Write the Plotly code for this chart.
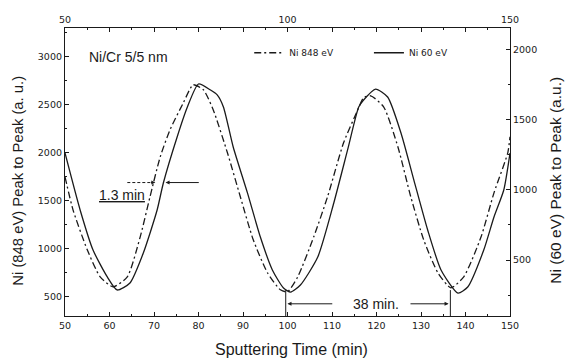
import plotly.graph_objects as go

# Ni 848 eV (dash-dot, left axis)
t_848 = [50, 51.8, 55.0, 57.9, 60.8, 64.0, 66.9, 69.1, 71.4, 73.6, 76.6, 78.8, 81.1, 83.3,
         86.5, 89.4, 92.3, 95.5, 98.4, 100.0, 102.3, 105.9, 109.0, 112.6, 115.8, 117.1,
         118.7, 121.6, 124.8, 127.7, 130.6, 133.8, 136.7, 139.6, 143.5, 146.4, 149.5, 150]
v_848 = [1750, 1406, 990, 708, 604, 708, 1125, 1542, 1958, 2240, 2521, 2708, 2656, 2448,
         2000, 1542, 1094, 750, 573, 552, 708, 1125, 1542, 2104, 2448, 2573,
         2594, 2479, 2063, 1542, 1094, 750, 594, 708, 1125, 1583, 2000, 2167]

# Ni 60 eV (solid, right axis)
t_60 = [50, 53.4, 56.3, 59.5, 61.7, 64.6, 67.6, 70.7, 72.1, 75.2, 77.5, 80.0, 82.7, 84.2,
        85.6, 87.8, 91.0, 93.9, 96.6, 99.1, 100.7, 102.9, 106.8, 110.4, 113.5, 116.0,
        117.1, 119.8, 122.5, 125.5, 128.4, 131.5, 134.5, 138.3, 140.5, 144.1, 146.4, 148.6, 150]
v_60 = [1264, 857, 571, 379, 286, 336, 550, 857, 1050, 1379, 1593, 1757, 1714, 1679,
        1593, 1307, 979, 664, 429, 300, 271, 321, 521, 907, 1286, 1593,
        1643, 1721, 1664, 1407, 1071, 714, 429, 264, 307, 571, 807, 1000, 1264]

x_ticks = list(range(50, 151, 10))
top_labels = ["50", "", "", "", "", "100", "", "", "", "", "150"]
left_ticks = [500, 1000, 1500, 2000, 2500, 3000]
right_ticks = [500, 1000, 1500, 2000]

FONT = "Liberation Sans, Arial, sans-serif"
TICKFONT = "DejaVu Sans, sans-serif"
INK = "#1a1a1a"

fig = go.Figure()
fig.add_trace(go.Scatter(x=t_848, y=v_848, mode="lines", name="Ni 848 eV", legend="legend",
                         line=dict(color=INK, width=1.3, dash="7px,3px,2px,3px",
                                   shape="spline", smoothing=0.6),
                         xaxis="x", yaxis="y"))
fig.add_trace(go.Scatter(x=t_60, y=v_60, mode="lines", name="Ni 60 eV", legend="legend2",
                         line=dict(color=INK, width=1.3, shape="spline", smoothing=0.6),
                         xaxis="x", yaxis="y2"))
# invisible trace to host the top axis
fig.add_trace(go.Scatter(x=[50, 150], y=[1000, 1000], mode="lines", showlegend=False,
                         line=dict(width=0), hoverinfo="skip", xaxis="x2", yaxis="y"))

axis_common = dict(showgrid=False, zeroline=False, showline=True, linecolor=INK, linewidth=1.2,
                   ticks="inside", ticklen=4, tickwidth=1, tickcolor=INK, automargin=False,
                   tickfont=dict(family=TICKFONT, size=9.5, color=INK))

legend_common = dict(orientation="h", xanchor="left", yanchor="middle",
                     bgcolor="rgba(0,0,0,0)", font=dict(family=TICKFONT, size=9, color=INK),
                     itemwidth=30)

fig.update_layout(
    width=567, height=360,
    margin=dict(l=65, r=57, t=28, b=44),
    paper_bgcolor="white", plot_bgcolor="white",
    font=dict(family=FONT, color=INK),
    xaxis=dict(range=[50, 150], tickvals=x_ticks, side="bottom",
               minor=dict(dtick=5, ticks="inside", ticklen=2, tickcolor=INK),
               **axis_common),
    xaxis2=dict(range=[50, 150], tickvals=x_ticks, ticktext=top_labels, side="top",
                overlaying="x", anchor="y",
                minor=dict(dtick=5, ticks="inside", ticklen=2, tickcolor=INK),
                **axis_common),
    yaxis=dict(range=[300, 3300], tickvals=left_ticks, side="left",
               minor=dict(dtick=250, ticks="inside", ticklen=2, tickcolor=INK),
               **axis_common),
    yaxis2=dict(range=[100, 2157], tickvals=right_ticks, side="right", overlaying="y",
                anchor="x",
                minor=dict(dtick=250, ticks="inside", ticklen=2, tickcolor=INK),
                **axis_common),
    legend=dict(x=0.414, y=0.914, **legend_common),
    legend2=dict(x=0.683, y=0.914, **legend_common),
    showlegend=True,
)

# Axis titles
fig.add_annotation(x=0.508, y=0, xref="paper", yref="paper", yshift=-33, showarrow=False,
                   xanchor="center", yanchor="middle",
                   text="Sputtering Time (min)", font=dict(size=16, color=INK))
fig.add_annotation(x=0, y=0.47, xref="paper", yref="paper", xshift=-47, showarrow=False,
                   xanchor="center", yanchor="middle",
                   textangle=-90, text="Ni (848 eV) Peak to Peak (a. u.)",
                   font=dict(size=14.8, color=INK))
fig.add_annotation(x=1, y=0.47, xref="paper", yref="paper", xshift=46, showarrow=False,
                   xanchor="center", yanchor="middle",
                   textangle=-90, text="Ni (60 eV) Peak to Peak (a.u.)",
                   font=dict(size=15.5, color=INK))

# Sample label
fig.add_annotation(x=55.0, y=3000, xref="x", yref="y", text="Ni/Cr 5/5 nm", showarrow=False,
                   xanchor="left", font=dict(size=14, color=INK))

# 1.3 min marker
fig.add_shape(type="line", xref="x", yref="y", x0=64.0, x1=69.6, y0=1690, y1=1690,
              line=dict(color=INK, width=1, dash="3px,2px"))
fig.add_annotation(x=70.3, y=1690, ax=69.0, ay=1690, xref="x", yref="y", axref="x", ayref="y",
                   text="", showarrow=True, arrowhead=2, arrowsize=0.8, arrowwidth=1, arrowcolor=INK)
fig.add_annotation(x=72.6, y=1690, ax=80.4, ay=1690, xref="x", yref="y", axref="x", ayref="y",
                   text="", showarrow=True, arrowhead=2, arrowsize=0.8, arrowwidth=1, arrowcolor=INK)
fig.add_annotation(x=62.7, y=1560, xref="x", yref="y", text="<u>1.3 min</u>", showarrow=False,
                   font=dict(size=14, color=INK))

# 38 min period marker
for tx in (99.6, 136.6):
    fig.add_shape(type="line", xref="x", yref="y", x0=tx, x1=tx, y0=300, y1=570,
                  line=dict(color=INK, width=1))
fig.add_annotation(x=100.0, y=427, ax=110.4, ay=427, xref="x", yref="y", axref="x", ayref="y",
                   text="", showarrow=True, arrowhead=2, arrowsize=0.8, arrowwidth=1, arrowcolor=INK)
fig.add_annotation(x=136.2, y=427, ax=127.3, ay=427, xref="x", yref="y", axref="x", ayref="y",
                   text="", showarrow=True, arrowhead=2, arrowsize=0.8, arrowwidth=1, arrowcolor=INK)
fig.add_annotation(x=119.8, y=427, xref="x", yref="y", text="38 min.", showarrow=False,
                   font=dict(size=14, color=INK))

# remove the default 8px page margin so the 567x360 figure fills the window exactly
fig.write_html("out.html",
               config={"displayModeBar": False},
               post_script="document.body.style.margin='0';"
                           "document.documentElement.style.overflow='hidden';")
